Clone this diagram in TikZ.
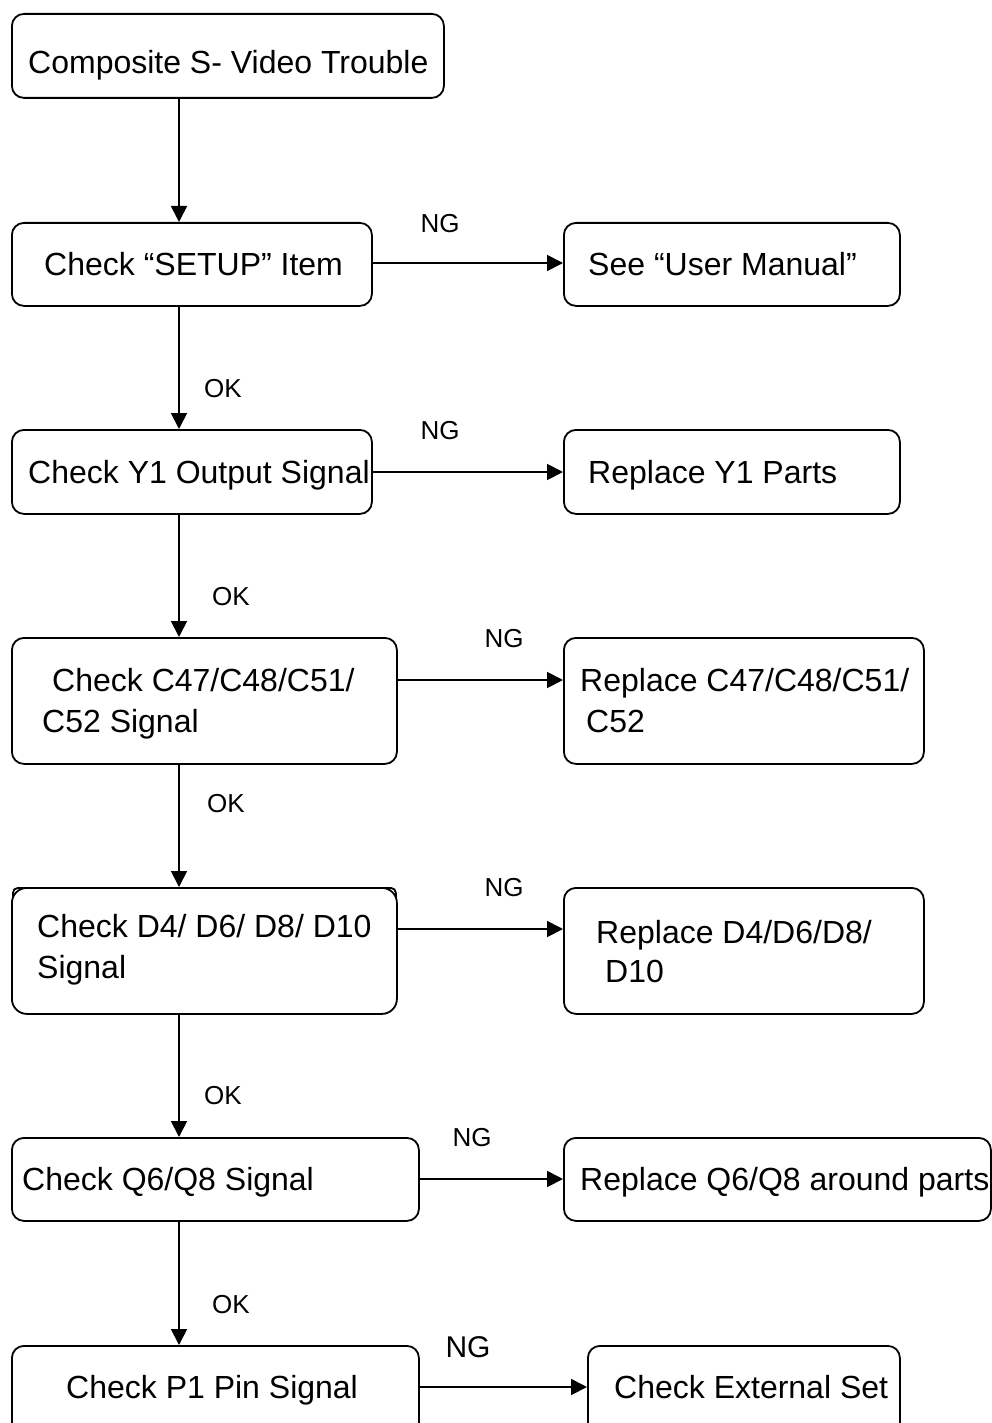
\documentclass[tikz,border=0pt]{standalone}
\usepackage{fontspec}
\setmainfont{Liberation Sans}
\usetikzlibrary{arrows.meta}
\begin{document}
\begin{tikzpicture}[x=1pt,y=-1pt,
  box/.style={draw=black,line width=1.8pt,rounded corners=12pt,anchor=north west,inner sep=0pt,fill=white},
  txt/.style={anchor=base west,inner sep=0pt,font=\fontsize{32}{38}\selectfont},
  lbl/.style={inner sep=0pt,font=\fontsize{26}{30}\selectfont},
  arr/.style={line width=1.8pt,-{Triangle[length=16pt,width=16pt]}}]
\useasboundingbox (0,0) rectangle (992,1423);
\clip (0,0) rectangle (992,1423);
\fill[white] (0,0) rectangle (992,1423);
\coordinate (vx) at (179,0);
% boxes
\node[box,minimum width=432pt,minimum height=84pt] (b1) at (11,13) {};
\node[box,minimum width=360pt,minimum height=83pt] (b2) at (11,222) {};
\node[box,minimum width=336pt,minimum height=83pt] (r2) at (563,222) {};
\node[box,minimum width=360pt,minimum height=84pt] (b3) at (11,429) {};
\node[box,minimum width=336pt,minimum height=84pt] (r3) at (563,429) {};
\node[box,minimum width=385pt,minimum height=126pt] (b4) at (11,637) {};
\node[box,minimum width=360pt,minimum height=126pt] (r4) at (563,637) {};
\node[box,rounded corners=5pt,minimum width=383pt,minimum height=70pt] (b5b) at (12,887) {};
\node[box,minimum width=385pt,minimum height=126pt,rounded corners=15pt] (b5) at (11,887) {};
\node[box,minimum width=360pt,minimum height=126pt] (r5) at (563,887) {};
\node[box,minimum width=407pt,minimum height=83pt] (b6) at (11,1137) {};
\node[box,minimum width=427pt,minimum height=83pt] (r6) at (563,1137) {};
\node[box,minimum width=407pt,minimum height=90pt] (b7) at (11,1345) {};
\node[box,minimum width=312pt,minimum height=90pt] (r7) at (587,1345) {};
% texts
\node[txt] (t1) at (28,74) {Composite S- Video Trouble};
\node[txt] (t2) at (44,276) {Check “SETUP” Item};
\node[txt] (s2) at (588,276) {See “User Manual”};
\node[txt] (t3) at (28,483) {Check Y1 Output Signal};
\node[txt] (s3) at (588,483) {Replace Y1 Parts};
\node[txt] (t4a) at (52,691) {Check C47/C48/C51/};
\node[txt] (t4b) at (42,732) {C52 Signal};
\node[txt] (s4a) at (580,691) {Replace C47/C48/C51/};
\node[txt] (s4b) at (586,732) {C52};
\node[txt] (t5a) at (37,937) {Check D4/ D6/ D8/ D10};
\node[txt] (t5b) at (37,978) {Signal};
\node[txt] (s5a) at (596,943) {Replace D4/D6/D8/};
\node[txt] (s5b) at (605,982) {D10};
\node[txt] (t6) at (22,1190) {Check Q6/Q8 Signal};
\node[txt] (s6) at (580,1190) {Replace Q6/Q8 around parts};
\node[txt] (t7) at (66,1398) {Check P1 Pin Signal};
\node[txt] (s7) at (614,1398) {Check External Set};
% labels
\node[lbl] (ng2) at (440,224) {NG};
\node[lbl] (ng3) at (440,431) {NG};
\node[lbl] (ng4) at (504,639) {NG};
\node[lbl] (ng5) at (504,888) {NG};
\node[lbl] (ng6) at (472,1138) {NG};
\node[lbl,font=\fontsize{30}{34}\selectfont] (ng7) at (468,1347) {NG};
\node[lbl] (ok3) at (223,389) {OK};
\node[lbl] (ok4) at (231,597) {OK};
\node[lbl] (ok5) at (226,804) {OK};
\node[lbl] (ok6) at (223,1096) {OK};
\node[lbl] (ok7) at (231,1305) {OK};
% vertical connectors
\draw[arr] (b1.south -| vx) -- (b2.north -| vx);
\draw[arr] (b2.south -| vx) -- (b3.north -| vx);
\draw[arr] (b3.south -| vx) -- (b4.north -| vx);
\draw[arr] (b4.south -| vx) -- (b5.north -| vx);
\draw[arr] (b5.south -| vx) -- (b6.north -| vx);
\draw[arr] (b6.south -| vx) -- (b7.north -| vx);
% horizontal connectors
\coordinate (h2) at (0,263);
\coordinate (h3) at (0,472);
\coordinate (h4) at (0,680);
\coordinate (h5) at (0,929);
\coordinate (h6) at (0,1179);
\coordinate (h7) at (0,1387);
\draw[arr] (b2.east |- h2) -- (r2.west |- h2);
\draw[arr] (b3.east |- h3) -- (r3.west |- h3);
\draw[arr] (b4.east |- h4) -- (r4.west |- h4);
\draw[arr] (b5.east |- h5) -- (r5.west |- h5);
\draw[arr] (b6.east |- h6) -- (r6.west |- h6);
\draw[arr] (b7.east |- h7) -- (r7.west |- h7);
\end{tikzpicture}
\end{document}
